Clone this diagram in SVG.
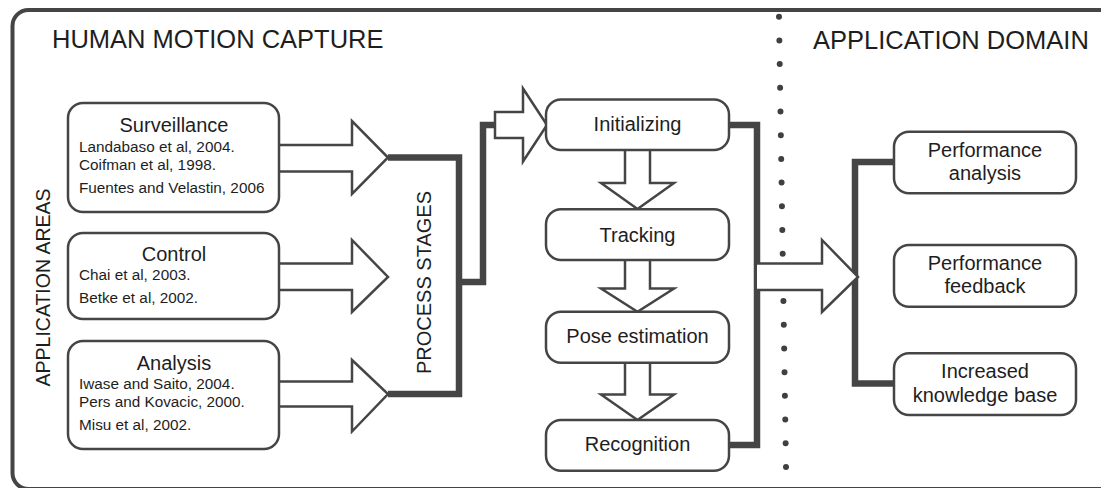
<svg xmlns="http://www.w3.org/2000/svg" width="1101" height="488" viewBox="0 0 1101 488">
  <style>
    text { font-family: "Liberation Sans", Arial, sans-serif; fill: #1e1e1e; }
    .title { font-size: 25.5px; }
    .side { font-size: 19.5px; }
    .head { font-size: 20px; text-anchor: middle; }
    .ref { font-size: 15.3px; }
    .box { fill: #fff; stroke: #454545; stroke-width: 2.5; }
    .hollow { fill: #fff; stroke: #454545; stroke-width: 2.5; stroke-linejoin: miter; }
    .thick { fill: none; stroke: #454545; stroke-width: 6.5; stroke-linejoin: miter; }
  </style>

  <rect width="1101" height="488" fill="#fff"/>

  <!-- outer frame -->
  <rect x="12.5" y="10" width="1120" height="479" rx="16" fill="none" stroke="#454545" stroke-width="4"/>

  <!-- dotted divider between capture and domain -->
  <path d="M779,16.7 L786.3,486" fill="none" stroke="#404040" stroke-width="6" stroke-linecap="round" stroke-dasharray="0 23.7"/>

  <!-- section titles -->
  <text class="title" x="52" y="48">HUMAN MOTION CAPTURE</text>
  <text class="title" x="813" y="49">APPLICATION DOMAIN</text>
  <text class="side" transform="translate(50,287.5) rotate(-90)" text-anchor="middle">APPLICATION AREAS</text>
  <text class="side" transform="translate(431,282.5) rotate(-90)" text-anchor="middle" style="font-size:20px">PROCESS STAGES</text>

  <!-- connectors -->
  <g id="connectors">
    <path class="thick" d="M388,157.5 H459 V394 H388"/>
    <path class="thick" d="M459,282 H483 V125 H498"/>
    <path class="thick" d="M729,125 H757 V445 H729"/>
    <path class="thick" d="M896,162 H855 V383.5 H896"/>

    <path class="hollow" d="M279,145 H352 V121 L388,157.5 L352,194 V171.5 H279"/>
    <path class="hollow" d="M279,263.5 H352 V240 L388,277 L352,312 V290 H279"/>
    <path class="hollow" d="M279,381.5 H352 V360 L388,394 L352,431.5 V406.5 H279"/>

    <path class="hollow" d="M495,112 H523 V88.5 L547,125 L523,161.5 V138 H495 Z"/>

    <path class="hollow" d="M625,150 V183 H601 L637.5,209 L674,183 H650 V150"/>
    <path class="hollow" d="M625,260 V288.5 H601 L637.5,311.7 L674,288.5 H650 V260"/>
    <path class="hollow" d="M625,362.7 V394.5 H601 L637.5,420 L674,394.5 H650 V362.7"/>

    <path class="hollow" d="M757,263.5 H822 V240 L858,277 L822,312 V290 H757"/>
  </g>

  <!-- application areas -->
  <g id="surveillance">
    <rect class="box" x="68" y="103" width="211" height="109" rx="15"/>
    <text class="head" x="174" y="132">Surveillance</text>
    <text class="ref" x="79" y="152">Landabaso et al, 2004.</text>
    <text class="ref" x="79" y="170">Coifman et al, 1998.</text>
    <text class="ref" x="79" y="193">Fuentes and Velastin, 2006</text>
  </g>
  <g id="control">
    <rect class="box" x="68" y="233" width="211" height="86" rx="15"/>
    <text class="head" x="174" y="261">Control</text>
    <text class="ref" x="79" y="280">Chai et al, 2003.</text>
    <text class="ref" x="79" y="303">Betke et al, 2002.</text>
  </g>
  <g id="analysis">
    <rect class="box" x="68" y="341" width="211" height="108" rx="15"/>
    <text class="head" x="174" y="369.5">Analysis</text>
    <text class="ref" x="79" y="388.5">Iwase and Saito, 2004.</text>
    <text class="ref" x="79" y="407">Pers and Kovacic, 2000.</text>
    <text class="ref" x="79" y="430">Misu et al, 2002.</text>
  </g>

  <!-- process stages -->
  <g id="initializing">
    <rect class="box" x="546" y="99.5" width="183" height="50.5" rx="15"/>
    <text class="head" x="637.5" y="131">Initializing</text>
  </g>
  <g id="tracking">
    <rect class="box" x="546" y="209.3" width="183" height="50.7" rx="15"/>
    <text class="head" x="637.5" y="241.5">Tracking</text>
  </g>
  <g id="pose-estimation">
    <rect class="box" x="546" y="311.7" width="183" height="51" rx="15"/>
    <text class="head" x="637.5" y="343.3">Pose estimation</text>
  </g>
  <g id="recognition">
    <rect class="box" x="546" y="420" width="183" height="50.7" rx="15"/>
    <text class="head" x="637.5" y="451">Recognition</text>
  </g>

  <!-- application domain -->
  <g id="performance-analysis">
    <rect class="box" x="894" y="131.7" width="182" height="61.6" rx="15"/>
    <text class="head" x="985" y="156.7">Performance</text>
    <text class="head" x="985" y="180">analysis</text>
  </g>
  <g id="performance-feedback">
    <rect class="box" x="894" y="245" width="182" height="61.7" rx="15"/>
    <text class="head" x="985" y="270">Performance</text>
    <text class="head" x="985" y="293.3">feedback</text>
  </g>
  <g id="increased-knowledge-base">
    <rect class="box" x="894" y="353.3" width="182" height="61.7" rx="15"/>
    <text class="head" x="985" y="378.3">Increased</text>
    <text class="head" x="985" y="401.7">knowledge base</text>
  </g>
</svg>
